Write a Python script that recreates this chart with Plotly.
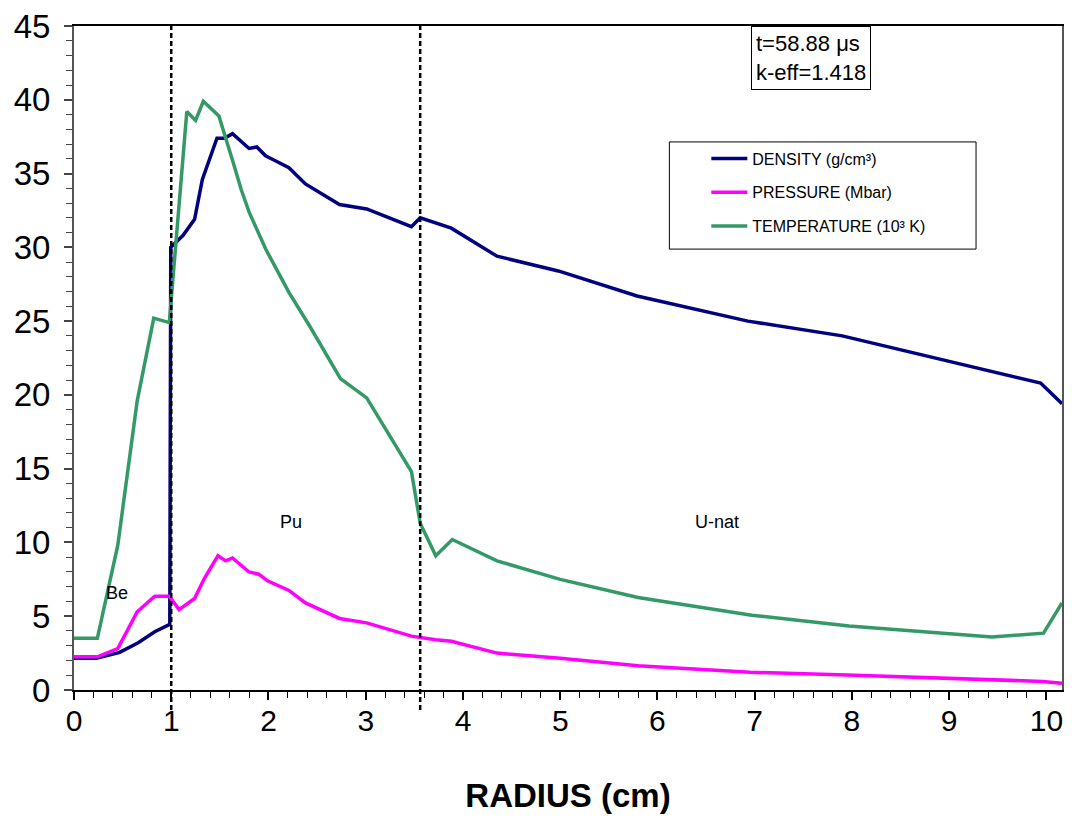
import plotly.graph_objects as go

# ---------------- data ----------------
radius_density = [0, 0.23, 0.47, 0.66, 0.83, 0.985, 0.995, 1.12, 1.24, 1.32, 1.47, 1.55,
                  1.63, 1.80, 1.88, 1.97, 2.06, 2.21, 2.38, 2.73, 3.01, 3.47, 3.56, 3.71,
                  3.88, 4.35, 4.98, 5.79, 6.93, 7.90, 8.86, 9.94, 10.16]
density = [2.15, 2.15, 2.55, 3.2, 3.95, 4.45, 30.0, 30.8, 31.9, 34.6, 37.4, 37.4,
           37.7, 36.7, 36.8, 36.2, 35.9, 35.4, 34.3, 32.9, 32.6, 31.4, 32.0, 31.7,
           31.3, 29.4, 28.4, 26.7, 25.0, 24.0, 22.5, 20.8, 19.4]

radius_pressure = [0, 0.24, 0.45, 0.65, 0.83, 0.98, 1.08, 1.24, 1.34, 1.48, 1.56, 1.63,
                   1.80, 1.90, 1.99, 2.21, 2.38, 2.73, 3.01, 3.47, 3.72, 3.88, 4.35,
                   5.0, 5.8, 6.95, 7.95, 9.44, 9.96, 10.16]
pressure = [2.25, 2.25, 2.8, 5.3, 6.35, 6.35, 5.45, 6.2, 7.55, 9.1, 8.75, 8.95,
            8.0, 7.85, 7.4, 6.75, 5.9, 4.85, 4.55, 3.65, 3.4, 3.3, 2.5,
            2.15, 1.65, 1.2, 1.02, 0.7, 0.58, 0.45]

radius_temperature = [0, 0.24, 0.45, 0.65, 0.82, 0.98, 1.16, 1.25, 1.33, 1.49, 1.63, 1.72,
                      1.80, 1.97, 2.21, 2.42, 2.74, 3.01, 3.47, 3.56, 3.72, 3.89, 4.35,
                      5.0, 5.8, 6.97, 7.97, 9.44, 9.97, 10.16]
temperature = [3.5, 3.5, 9.8, 19.6, 25.2, 24.9, 39.2, 38.6, 39.9, 38.9, 35.9, 33.9,
               32.4, 29.9, 26.95, 24.7, 21.1, 19.8, 14.8, 11.3, 9.1, 10.2, 8.75,
               7.5, 6.27, 5.07, 4.34, 3.6, 3.85, 5.9]

series_names = ["DENSITY (g/cm³)", "PRESSURE (Mbar)", "TEMPERATURE (10³ K)"]
boundaries = [1.0, 3.56]
regions = ["Be", "Pu", "U-nat"]
region_x = [0.44, 2.23, 6.61]
region_y = [6.6, 11.4, 11.4]
x_ticks = list(range(0, 11))
y_ticks = list(range(0, 46, 5))
x_range = [0, 10.16]
y_range = [0, 45]

FONT = "Liberation Sans, Arial, sans-serif"

fig = go.Figure()
colors = ["#000080", "#FF00FF", "#339966"]
for i, (xs, ys) in enumerate([(radius_density, density),
                               (radius_pressure, pressure),
                               (radius_temperature, temperature)]):
    fig.add_trace(go.Scatter(x=xs, y=ys, mode="lines", name=series_names[i],
                             legendgroup=f"g{i}",
                             line=dict(color=colors[i], width=3.5)))

# region boundaries (dashed), extending slightly below the x axis
for b in boundaries:
    px = (b - x_range[0]) / (x_range[1] - x_range[0])
    fig.add_shape(type="line", xref="paper", yref="paper", x0=px, x1=px, y0=-0.03, y1=1,
                  line=dict(color="black", width=2.5, dash="5px,3px"))

# legend frame
fig.add_shape(type="rect", xref="paper", yref="paper", x0=0.6026, x1=0.913,
              y0=0.664, y1=0.8254, line=dict(color="black", width=1), fillcolor="white",
              layer="below")

for t, xx, yy in zip(regions, region_x, region_y):
    fig.add_annotation(x=xx, y=yy, xref="x", yref="y", text=t, showarrow=False,
                       font=dict(family=FONT, size=18, color="black"))

fig.add_annotation(xref="paper", yref="paper", x=0.6855, y=1.0, xanchor="left",
                   yanchor="top", align="left", showarrow=False,
                   text="t=58.88 μs<br>k-eff=1.418",
                   font=dict(family=FONT, size=22, color="black"),
                   bordercolor="black", borderwidth=1, borderpad=4, bgcolor="white")

fig.update_layout(
    width=1072, height=818,
    margin=dict(l=74, r=8, t=20, b=128),
    paper_bgcolor="white", plot_bgcolor="white",
    font=dict(family=FONT, color="black"),
    showlegend=True,
    legend=dict(x=0.640, y=0.826, xanchor="left", yanchor="top",
                bgcolor="rgba(0,0,0,0)", borderwidth=0,
                font=dict(family=FONT, size=16, color="black"),
                traceorder="grouped", tracegroupgap=10, itemwidth=36),
)
fig.update_xaxes(range=x_range, tickvals=x_ticks, ticks="outside", ticklen=8,
                 tickwidth=1.5, tickcolor="black", linecolor="black", linewidth=2,
                 mirror=True, showgrid=False, zeroline=False,
                 minor=dict(dtick=0.2, tick0=0, ticks="outside", ticklen=6,
                            tickcolor="black", tickwidth=1.2),
                 ticklabelstandoff=-5,
                 tickfont=dict(family=FONT, size=30, color="black"),
                 title=dict(text="<b>RADIUS (cm)</b>", standoff=48,
                            font=dict(family=FONT, size=33, color="black")))
fig.update_yaxes(range=y_range, tickvals=y_ticks, ticks="outside", ticklen=8,
                 tickwidth=1.5, tickcolor="#444", linecolor="#555", linewidth=2,
                 mirror=True, showgrid=False, zeroline=False,
                 minor=dict(dtick=1, tick0=0, ticks="outside", ticklen=6,
                            tickcolor="#444", tickwidth=1.2),
                 ticklabelstandoff=7,
                 tickfont=dict(family=FONT, size=33, color="black"))

fig.write_html("out.html")
